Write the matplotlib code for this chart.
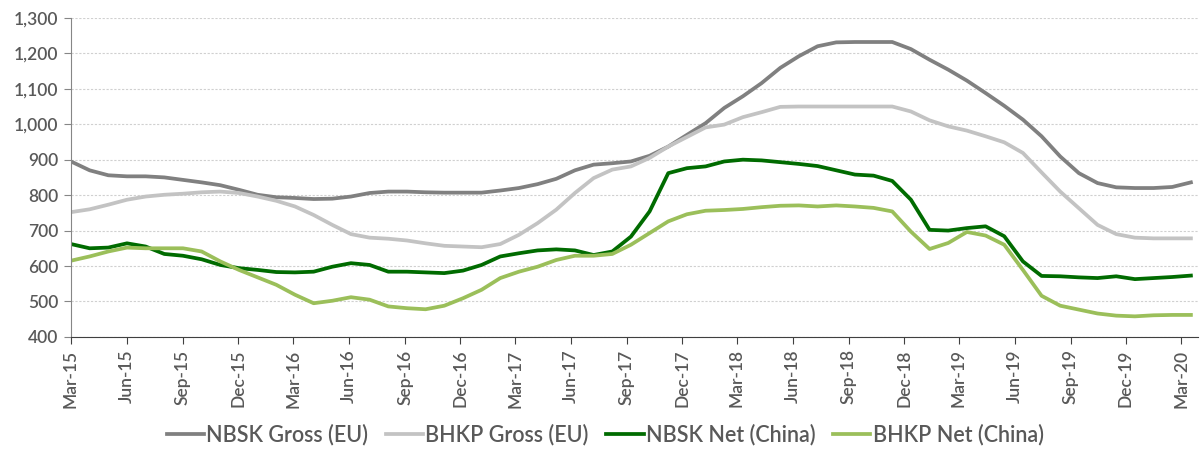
import matplotlib.pyplot as plt
import matplotlib.dates as mdates
import numpy as np
import pandas as pd

# Monthly pulp prices, Mar-15 .. Mar-20 (USD/t)
dates = pd.date_range("2015-03-01", "2020-03-17", periods=61)

nbsk_gross = [895, 870, 856, 853, 853, 850, 843, 836, 828, 815, 801, 794, 792, 789, 790, 796,
              806, 810, 810, 808, 807, 807, 807, 813, 820, 831, 846, 870, 886, 890, 895, 911,
              937, 970, 1003, 1046, 1079, 1116, 1159, 1192, 1220, 1231, 1232, 1232, 1232, 1212,
              1182, 1154, 1123, 1088, 1052, 1013, 966, 909, 862, 834, 822, 820, 820, 823, 836]
bhkp_gross = [752, 760, 773, 787, 796, 801, 804, 808, 810, 806, 796, 784, 768, 744, 716, 690,
              680, 677, 672, 664, 657, 655, 653, 662, 688, 721, 759, 806, 848, 872, 881, 905,
              937, 964, 991, 999, 1020, 1034, 1049, 1050, 1050, 1050, 1050, 1050, 1050, 1036,
              1011, 994, 982, 966, 949, 919, 864, 810, 763, 716, 690, 680, 678, 678, 678]
nbsk_net = [662, 650, 652, 664, 655, 634, 629, 619, 603, 594, 589, 583, 582, 584, 598, 608,
            603, 584, 584, 582, 580, 587, 603, 627, 636, 644, 647, 644, 631, 641, 683, 754,
            862, 876, 881, 895, 900, 898, 893, 888, 882, 870, 858, 855, 840, 787, 702, 700,
            707, 712, 684, 613, 572, 571, 568, 566, 571, 563, 566, 569, 573]
bhkp_net = [615, 627, 641, 652, 650, 650, 650, 641, 613, 589, 568, 547, 519, 495, 502, 512,
            505, 486, 481, 478, 488, 509, 533, 566, 584, 598, 617, 629, 629, 634, 660, 693,
            726, 746, 756, 758, 761, 766, 770, 771, 768, 771, 768, 764, 754, 697, 648, 665,
            696, 686, 660, 589, 516, 488, 477, 466, 460, 458, 461, 462, 462]

series = [
    ("NBSK Gross (EU)", nbsk_gross, "#808080"),
    ("BHKP Gross (EU)", bhkp_gross, "#c3c3c3"),
    ("NBSK Net (China)", nbsk_net, "#006b00"),
    ("BHKP Net (China)", bhkp_net, "#9bbf5a"),
]

plt.rcParams['font.family'] = ['Lato', 'DejaVu Sans']
plt.rcParams['font.weight'] = 'semibold'
text_col = "#595959"

fig = plt.figure(figsize=(12.03, 4.59), dpi=100)
ax = fig.add_axes([0.059, 0.266, 0.937, 0.695])

for name, vals, col in series:
    ax.plot(dates, vals, color=col, lw=2.7, label=name, solid_joinstyle='round')

ax.set_ylim(400, 1300)
ax.set_yticks(np.arange(400, 1301, 100))
ax.yaxis.set_major_formatter(plt.FuncFormatter(lambda v, p: f"{int(v):,}"))
ax.grid(axis='y', color="#d0d0d0", linestyle=(0, (2, 1.5)), lw=0.8)
ax.set_axisbelow(True)

ax.set_xlim(pd.Timestamp("2015-03-01"), pd.Timestamp("2020-03-29"))
ax.xaxis.set_major_locator(mdates.MonthLocator(bymonth=[3, 6, 9, 12]))
ax.xaxis.set_major_formatter(mdates.DateFormatter("%b-%y"))
plt.setp(ax.get_xticklabels(), rotation=90)

for s in ['top', 'right']:
    ax.spines[s].set_visible(False)
ax.spines['left'].set_color("#868686")
ax.spines['bottom'].set_color("#404040")
ax.tick_params(axis='y', length=5, color="#868686", labelsize=12.5, labelcolor=text_col, pad=4)
ax.tick_params(axis='x', length=5, color="#404040", labelsize=12.5, labelcolor=text_col, pad=4)

fig.legend(loc='lower center', bbox_to_anchor=(0.503, -0.012), ncol=4, frameon=False,
           fontsize=15.5, labelcolor=text_col, handlelength=1.75, handletextpad=0.1,
           columnspacing=0.8)

fig.savefig("out.png", dpi=100)
